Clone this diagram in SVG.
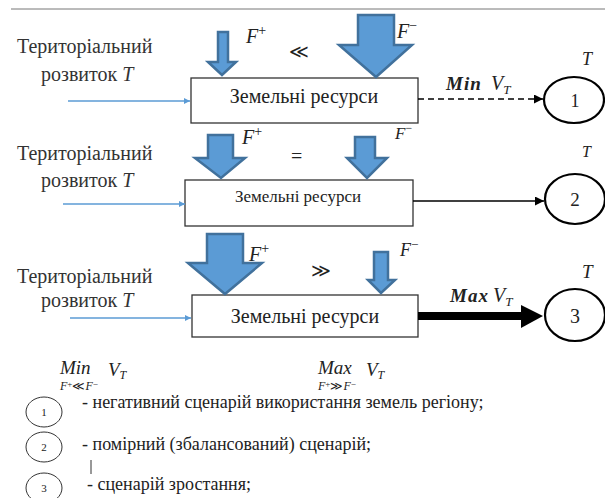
<svg xmlns="http://www.w3.org/2000/svg" width="605" height="498" viewBox="0 0 605 498">
<defs>
<style>
text{font-family:"Liberation Serif","Times New Roman",serif}
.lbl{font-size:20px;fill:#333}
.box{fill:#fff;stroke:#333;stroke-width:1.3}
.bt{fill:#222;text-anchor:middle}
.ba{fill:#5B9BD5;stroke:#41719C;stroke-width:2.5;stroke-linejoin:miter}
.m{font-style:italic;fill:#222}
.ell{fill:#fff;stroke:#000;stroke-width:2.2}
.num{fill:#222;text-anchor:middle}
.blue{stroke:#5B9BD5;stroke-width:1.5;fill:none}
.leg{font-size:18px;fill:#222}
.sell{fill:#fff;stroke:#333;stroke-width:1}
</style>
<marker id="ab" viewBox="0 0 10 10" refX="10" refY="5" markerWidth="6" markerHeight="6" orient="auto" markerUnits="userSpaceOnUse"><path d="M0,0 L10,5 L0,10 z" fill="#5B9BD5"/></marker>
<marker id="ak" viewBox="0 0 10 10" refX="10" refY="5" markerWidth="9" markerHeight="9" orient="auto" markerUnits="userSpaceOnUse"><path d="M0,0 L10,5 L0,10 z" fill="#000"/></marker>
</defs>
<line x1="11" y1="9" x2="605" y2="9" stroke="#777" stroke-width="1"/>

<g id="row1">
<text class="lbl" x="17" y="53">Територіальний</text>
<text class="lbl" x="41" y="81">розвиток <tspan font-style="italic">T</tspan></text>
<g id="box1"><rect class="box" x="191" y="78" width="227" height="45"/><text class="bt" x="304" y="103" font-size="20">Земельні ресурси</text></g>
<polygon class="ba" points="218,32 228,32 228,62 236,62 222,75 208,62 218,62"/>
<text class="m" x="246" y="43" font-size="20">F<tspan font-size="14" dy="-8" font-style="normal">+</tspan></text>
<text x="289" y="58" font-size="19" fill="#222">≪</text>
<polygon class="ba" points="358,15 394,15 394,45 412,45 376,77 339,45 358,45"/>
<text class="m" x="397" y="38" font-size="20">F<tspan font-size="14" dy="-8" font-style="normal">−</tspan></text>
<text class="m" x="446" y="90" font-size="19" font-weight="bold" letter-spacing="1">Min</text>
<text class="m" x="491" y="90" font-size="20">V<tspan font-size="13" dy="4">T</tspan></text>
<g id="e1"><ellipse class="ell" cx="574" cy="100" rx="30" ry="23"/><text class="num" x="575" y="107" font-size="18">1</text></g>
<text class="m" x="582" y="65" font-size="18">T</text>
</g>

<g id="row2">
<text class="lbl" x="17" y="160">Територіальний</text>
<text class="lbl" x="41" y="187">розвиток <tspan font-style="italic">T</tspan></text>
<g id="box2"><rect class="box" x="185" y="180" width="228" height="46"/><text class="bt" x="298" y="202" font-size="17">Земельні ресурси</text></g>
<polygon class="ba" points="208,135 233,135 233,158 245,158 221,178 195,158 208,158"/>
<text class="m" x="242" y="144" font-size="20">F<tspan font-size="14" dy="-8" font-style="normal">+</tspan></text>
<text x="291" y="163" font-size="20" fill="#222">=</text>
<polygon class="ba" points="355,137 375,137 375,158 387,158 367,178 347,158 355,158"/>
<text class="m" x="395" y="139" font-size="17">F<tspan font-size="12" dy="-7" font-style="normal">−</tspan></text>
<g id="e2"><ellipse class="ell" cx="575" cy="199" rx="30" ry="25"/><text class="num" x="575" y="206" font-size="19">2</text></g>
<text class="m" x="582" y="157" font-size="16">T</text>
</g>

<g id="row3">
<text class="lbl" x="17" y="283">Територіальний</text>
<text class="lbl" x="41" y="307">розвиток <tspan font-style="italic">T</tspan></text>
<g id="box3"><rect class="box" x="192" y="295" width="226" height="42"/><text class="bt" x="305" y="323" font-size="20">Земельні ресурси</text></g>
<polygon class="ba" points="207,234 243,234 243,263 262,263 225,294 188,263 207,263"/>
<text class="m" x="249" y="261" font-size="20">F<tspan font-size="14" dy="-8" font-style="normal">+</tspan></text>
<text x="311" y="277" font-size="19" fill="#222">≫</text>
<polygon class="ba" points="374,252 388,252 388,280 395,280 381,293 368,280 374,280"/>
<text class="m" x="400" y="256" font-size="18">F<tspan font-size="13" dy="-7" font-style="normal">−</tspan></text>
<text class="m" x="450" y="302" font-size="19" font-weight="bold" letter-spacing="1">Max</text>
<text class="m" x="493" y="302" font-size="20">V<tspan font-size="13" dy="4">T</tspan></text>
<g id="e3"><ellipse class="ell" cx="575" cy="315" rx="30" ry="26"/><text class="num" x="575" y="323" font-size="20">3</text></g>
<text class="m" x="582" y="278" font-size="19">T</text>
</g>

<g id="connectors">
<line class="blue" x1="68" y1="101" x2="190" y2="101" marker-end="url(#ab)"/>
<line class="blue" x1="63" y1="204" x2="185" y2="204" marker-end="url(#ab)"/>
<line class="blue" x1="70" y1="318" x2="191" y2="318" marker-end="url(#ab)"/>
<line x1="418" y1="99" x2="543" y2="99" stroke="#000" stroke-width="1.5" stroke-dasharray="6,4" marker-end="url(#ak)"/>
<line x1="413" y1="201" x2="544" y2="201" stroke="#000" stroke-width="1.3" marker-end="url(#ak)"/>
<line x1="418" y1="316" x2="524" y2="316" stroke="#000" stroke-width="8"/>
<polygon points="521,305 543,316 521,328" fill="#000"/>
</g>

<g id="legend">
<text class="m" x="60" y="374" font-size="19">Min</text>
<text class="m" x="60" y="390" font-size="12">F<tspan dy="-3" font-style="normal" font-size="9">+</tspan><tspan dy="3" font-style="normal">≪</tspan>F<tspan dy="-3" font-style="normal" font-size="9">−</tspan></text>
<text class="m" x="108" y="376" font-size="19">V<tspan font-size="12" dy="3">T</tspan></text>
<text class="m" x="318" y="374" font-size="19">Max</text>
<text class="m" x="318" y="390" font-size="12">F<tspan dy="-3" font-style="normal" font-size="9">+</tspan><tspan dy="3" font-style="normal">≫</tspan>F<tspan dy="-3" font-style="normal" font-size="9">−</tspan></text>
<text class="m" x="366" y="376" font-size="19">V<tspan font-size="12" dy="3">T</tspan></text>
<g id="l1"><ellipse class="sell" cx="44" cy="412" rx="18" ry="15"/><text class="num" x="44" y="416" font-size="11">1</text></g>
<text class="leg" x="82" y="408">- негативний сценарій використання земель регіону;</text>
<g id="l2"><ellipse class="sell" cx="44" cy="447" rx="18" ry="15"/><text class="num" x="44" y="451" font-size="11">2</text></g>
<text class="leg" x="82" y="450">- помірний (збалансований) сценарій;</text>
<line x1="91" y1="460" x2="91" y2="474" stroke="#333" stroke-width="1"/>
<g id="l3"><ellipse class="sell" cx="44" cy="488" rx="18" ry="15"/><text class="num" x="44" y="492" font-size="11">3</text></g>
<text class="leg" x="87" y="490">- сценарій зростання;</text>
</g>
</svg>
